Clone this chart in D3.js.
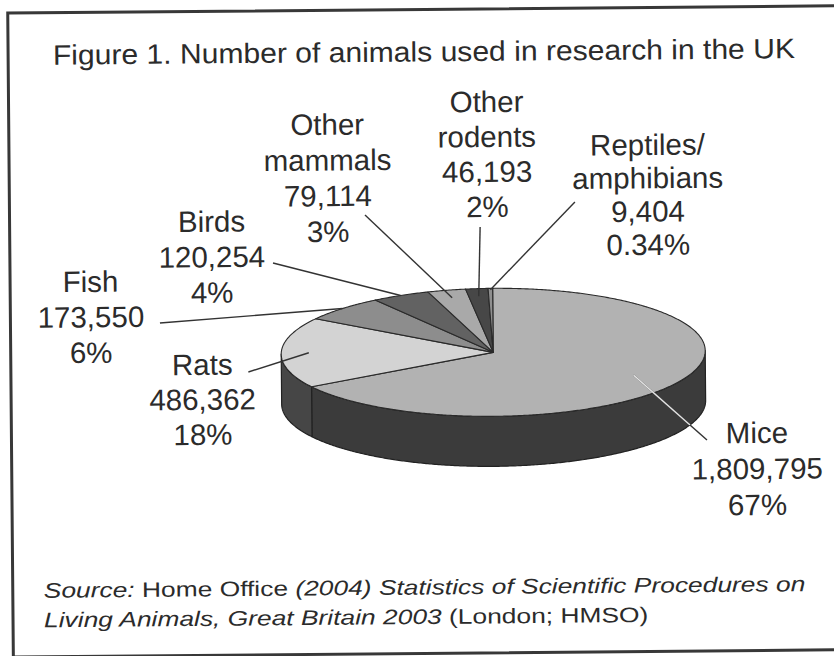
<!DOCTYPE html>
<html><head><meta charset="utf-8">
<script src="https://cdn.jsdelivr.net/npm/d3@7"></script>
<style>html,body{margin:0;padding:0;background:#fff;} svg{display:block;}</style>
</head><body>
<svg id="chart" width="834" height="656"></svg>
<script>
// ---- data ----
const categories = ["Mice","Rats","Fish","Birds","Other mammals","Other rodents","Reptiles/amphibians"];
const nameLines = [["Mice"],["Rats"],["Fish"],["Birds"],["Other","mammals"],["Other","rodents"],["Reptiles/","amphibians"]];
const counts = [1809795, 486362, 173550, 120254, 79114, 46193, 9404];
const percentLabels = ["67%","18%","6%","4%","3%","2%","0.34%"];
const titleText = "Figure 1. Number of animals used in research in the UK";
const sourceLine1 = [["Source:",true],[" Home Office ",false],["(2004) Statistics of Scientific Procedures on",true]];
const sourceLine2 = [["Living Animals, Great Britain 2003",true],[" (London; HMSO)",false]];

// ---- styles ----
const topColors  = ["#b2b2b2","#d3d3d3","#8d8d8d","#626262","#a9a9a9","#474747","#8f8f8f"];
const sideColors = ["#3b3b3b","#464646","#3b3b3b","#3b3b3b","#3b3b3b","#3b3b3b","#3b3b3b"];
const ink = "#2b2b2b";
const font = "'Liberation Sans', Arial, Helvetica, sans-serif";

// ---- layout ----
const cx = 493, cy = 353, rx = 212, ry = 64, depth = 50;
const labelLayout = [
  {x:756, y:446, lh:36,   lx:706, ly:442.5, r:0.76},
  {x:202, y:373, lh:35,   lx:248, ly:370.5, r:0.87},
  {x:91,  y:289, lh:35.5, lx:160, ly:320.8, r:1.0},
  {x:212.5,y:230,lh:35.5, lx:273.6,ly:261.7, r:1.0},
  {x:329, y:134, lh:35.7, lx:366, ly:214.5, r:0.88},
  {x:488.5,y:112.6,lh:35, lx:481, ly:227.5, r:0.88},
  {x:649, y:157, lh:33.3, lx:576, ly:203.4, r:0.98}
];

const svg = d3.select("#chart");
const root = svg.append("g").attr("transform","rotate(-0.5,417,328)");

// frame
root.append("rect").attr("x",10.5).attr("y",9.5).attr("width",900).attr("height",644)
  .attr("fill","none").attr("stroke","#383838").attr("stroke-width",3);

// title
root.append("text").attr("x",55.3).attr("y",61.5)
  .attr("font-family",font).attr("font-size",28).attr("fill",ink)
  .attr("textLength",742).attr("lengthAdjust","spacingAndGlyphs")
  .text(titleText);

// ---- pie ----
const arcs = d3.pie().sort(null).value(d=>d).startAngle(0).endAngle(2*Math.PI)(counts);
const P = (a, dy=0) => [cx + rx*Math.sin(a), cy - ry*Math.cos(a) + dy];
function arcPts(a0, a1, dy){
  const n = Math.max(2, Math.ceil(Math.abs(a1-a0)/(Math.PI/360)));
  return d3.range(n+1).map(i => P(a0 + (a1-a0)*i/n, dy));
}
const line = d3.line();
const pieG = root.append("g");

// sides (front-visible part only: angles between 90 and 270 degrees)
arcs.forEach((d,i)=>{
  const s0 = Math.max(d.startAngle, Math.PI/2), s1 = Math.min(d.endAngle, 3*Math.PI/2);
  if (s1 > s0){
    const pts = arcPts(s0,s1,0).concat(arcPts(s1,s0,depth));
    pieG.append("path").attr("d", line(pts)+"Z")
      .attr("fill", sideColors[i]).attr("stroke","#222").attr("stroke-width",1.2).attr("stroke-linejoin","round");
  }
});
// top faces
arcs.forEach((d,i)=>{
  const pts = [[cx,cy]].concat(arcPts(d.startAngle,d.endAngle,0));
  pieG.append("path").attr("d", line(pts)+"Z")
    .attr("fill", topColors[i]).attr("stroke","#2a2a2a").attr("stroke-width",1.1).attr("stroke-linejoin","round");
});

// clip region = whole pie body
const defs = svg.append("defs");
const clip = defs.append("clipPath").attr("id","pieclip");
clip.append("path").attr("d", line(arcPts(0,2*Math.PI,0))+"Z");
clip.append("path").attr("d", line(arcPts(0,2*Math.PI,depth))+"Z");
clip.append("rect").attr("x",cx-rx).attr("y",cy).attr("width",2*rx).attr("height",depth);

// leader lines
const fmt = d3.format(",");
arcs.forEach((d,i)=>{
  const L = labelLayout[i];
  const mid = (d.startAngle + d.endAngle)/2;
  const ex = cx + L.r*rx*Math.sin(mid), ey = cy - L.r*ry*Math.cos(mid);
  root.append("line").attr("x1",L.lx).attr("y1",L.ly).attr("x2",ex).attr("y2",ey)
    .attr("stroke","#333").attr("stroke-width",1.4);
  if (i === 0){
    root.append("line").attr("x1",L.lx).attr("y1",L.ly).attr("x2",ex).attr("y2",ey)
      .attr("stroke","#e4e4e4").attr("stroke-width",1.4).attr("clip-path","url(#pieclip)");
  }
});

// labels
categories.forEach((c,i)=>{
  const L = labelLayout[i];
  const lines = nameLines[i].concat([fmt(counts[i]), percentLabels[i]]);
  const t = root.append("text").attr("font-family",font).attr("font-size",29.5)
    .attr("fill",ink).attr("text-anchor","middle");
  lines.forEach((s,k)=>{
    t.append("tspan").attr("x",L.x).attr("y",L.y + k*L.lh).text(s);
  });
});

// source
function sourceText(parts, x, y){
  const t = root.append("text").attr("font-family",font).attr("font-size",21).attr("fill",ink)
    .attr("transform",`translate(${x},${y})`);
  parts.forEach(p=>{
    t.append("tspan").attr("font-style", p[1] ? "italic" : "normal").text(p[0]);
  });
  return t;
}
const s1 = sourceText(sourceLine1, 41.5, 594.5);
const s2 = sourceText(sourceLine2, 41.5, 624);
const w = s1.node().getComputedTextLength();
const sx = 762 / w;
s1.attr("transform",`translate(41.5,594.5) scale(${sx},1)`);
s2.attr("transform",`translate(41.5,624) scale(${sx},1)`);
</script>
</body></html>
